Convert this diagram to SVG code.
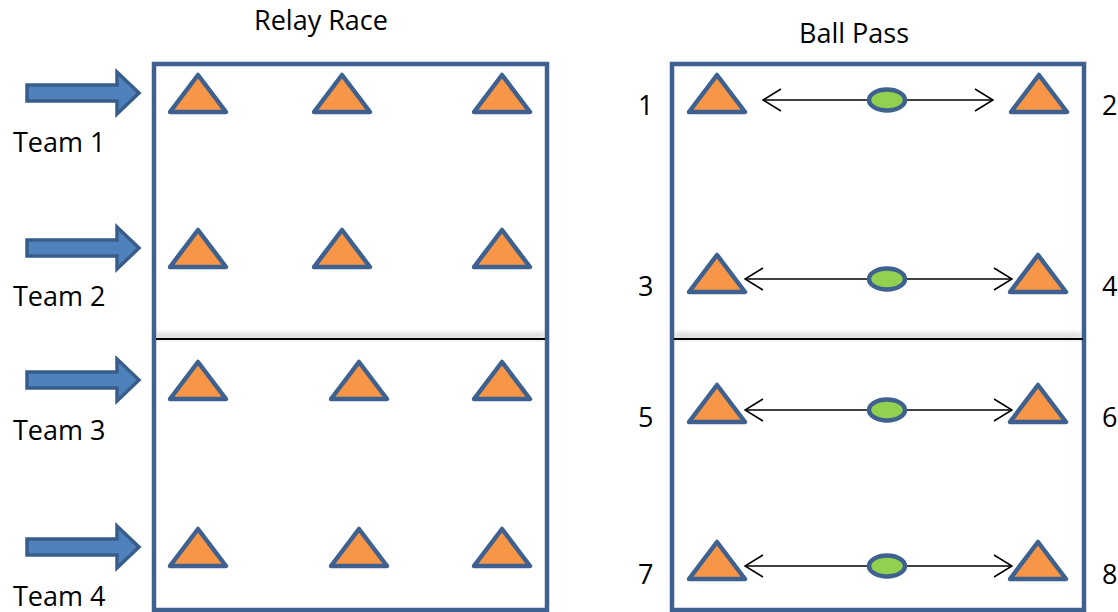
<svg xmlns="http://www.w3.org/2000/svg" width="1118" height="612" viewBox="0 0 1118 612">
<style>
.t{font-family:"Open Sans","Liberation Sans",sans-serif;font-size:27px;fill:#000}
.box{fill:none;stroke:#3E6190;stroke-width:4.5}
.tri{fill:#F79646;stroke:#3E6190;stroke-width:4.5;stroke-linejoin:round}
.ball{fill:#92D050;stroke:#3E6190;stroke-width:4.5}
.blk{fill:#4F81BD;stroke:#385D8A;stroke-width:3.5}
.pass{stroke:#000;stroke-width:1.5;fill:none;marker-start:url(#oh);marker-end:url(#oh)}
.div{stroke:#000;stroke-width:2}
</style>
<defs>
<marker id="oh" viewBox="0 0 20 24" refX="19" refY="12" markerWidth="20" markerHeight="24" markerUnits="userSpaceOnUse" orient="auto-start-reverse">
<path d="M1,1 L19,12 L1,23" fill="none" stroke="#000" stroke-width="1.5"/>
</marker>
<filter id="blur" x="-5%" y="-100%" width="110%" height="300%"><feGaussianBlur stdDeviation="3"/></filter>
<path id="tri" d="M-28,18 L0,-19 L28,18 Z"/>
<path id="blk" d="M0,-8 L90,-8 L90,-21 L112,0 L90,21 L90,8 L0,8 Z"/>
</defs>
<rect width="1118" height="612" fill="#fff"/>

<g id="titles">
<text class="t" x="321" y="30" text-anchor="middle">Relay Race</text>
<text class="t" x="854" y="43" text-anchor="middle">Ball Pass</text>
</g>

<g id="relay-field">
<rect x="155" y="334" width="390" height="4" fill="#bbb" filter="url(#blur)"/>
<rect class="box" x="154" y="64" width="393" height="546"/>
<line class="div" x1="156" y1="339" x2="545" y2="339"/>
</g>

<g id="ballpass-field">
<rect x="674" y="334" width="408" height="4" fill="#bbb" filter="url(#blur)"/>
<rect class="box" x="672" y="64" width="412" height="546"/>
<line class="div" x1="674" y1="339" x2="1083" y2="339"/>
</g>

<g id="team1">
<use href="#blk" class="blk" x="27" y="93"/>
<text class="t" x="13" y="152">Team 1</text>
<use href="#tri" class="tri" x="198" y="94"/>
<use href="#tri" class="tri" x="342" y="94"/>
<use href="#tri" class="tri" x="502" y="94"/>
</g>
<g id="team2">
<use href="#blk" class="blk" x="27" y="248"/>
<text class="t" x="13" y="306">Team 2</text>
<use href="#tri" class="tri" x="198" y="249"/>
<use href="#tri" class="tri" x="342" y="249"/>
<use href="#tri" class="tri" x="502" y="249"/>
</g>
<g id="team3">
<use href="#blk" class="blk" x="27" y="380"/>
<text class="t" x="13" y="440">Team 3</text>
<use href="#tri" class="tri" x="198" y="381"/>
<use href="#tri" class="tri" x="359" y="381"/>
<use href="#tri" class="tri" x="502" y="381"/>
</g>
<g id="team4">
<use href="#blk" class="blk" x="27" y="547"/>
<text class="t" x="13" y="606">Team 4</text>
<use href="#tri" class="tri" x="198" y="548"/>
<use href="#tri" class="tri" x="359" y="548"/>
<use href="#tri" class="tri" x="502" y="548"/>
</g>

<g id="connectors">
<line class="pass" x1="763" y1="100" x2="993" y2="100"/>
<line class="pass" x1="745" y1="279" x2="1012" y2="279"/>
<line class="pass" x1="745" y1="410" x2="1012" y2="410"/>
<line class="pass" x1="745" y1="566" x2="1012" y2="566"/>
</g>

<g id="pair1-2">
<text class="t" x="638" y="115">1</text>
<text class="t" x="1102" y="115">2</text>
<use href="#tri" class="tri" x="717" y="94"/>
<use href="#tri" class="tri" x="1039" y="94"/>
<ellipse class="ball" cx="887" cy="100" rx="18" ry="10.5"/>
</g>
<g id="pair3-4">
<text class="t" x="638" y="296">3</text>
<text class="t" x="1102" y="296">4</text>
<use href="#tri" class="tri" x="717" y="274"/>
<use href="#tri" class="tri" x="1038" y="274"/>
<ellipse class="ball" cx="887" cy="279" rx="18" ry="10.5"/>
</g>
<g id="pair5-6">
<text class="t" x="638" y="427">5</text>
<text class="t" x="1102" y="427">6</text>
<use href="#tri" class="tri" x="717" y="404"/>
<use href="#tri" class="tri" x="1038" y="404"/>
<ellipse class="ball" cx="887" cy="410" rx="18" ry="10.5"/>
</g>
<g id="pair7-8">
<text class="t" x="638" y="584">7</text>
<text class="t" x="1102" y="584">8</text>
<use href="#tri" class="tri" x="717" y="561"/>
<use href="#tri" class="tri" x="1038" y="561"/>
<ellipse class="ball" cx="887" cy="566" rx="18" ry="10.5"/>
</g>
</svg>
